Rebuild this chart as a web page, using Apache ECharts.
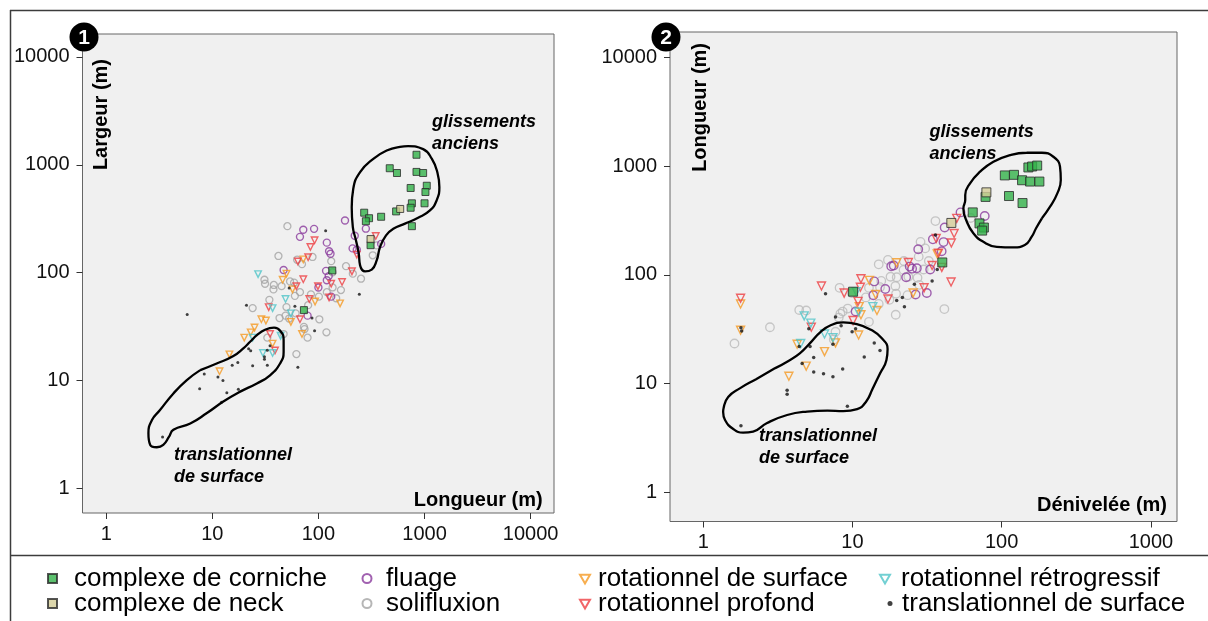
<!DOCTYPE html>
<html><head><meta charset="utf-8">
<script src="https://cdn.jsdelivr.net/npm/echarts@6/dist/echarts.min.js"></script>
<style>html,body{margin:0;padding:0;background:#fff}#c{width:1208px;height:621px}</style>
</head><body><div id="c"></div>
<script>
// ---------- Panel 1 : Largeur (m) vs Longueur (m) ----------
const p1Corniche = [[840,1240],[470,930],[550,840],[840,860],[970,840],[1050,640],[740,610],[1020,560],[760,440],[740,400],[540,370],[1000,440],[390,330],[270,360],[300,320],[280,300],[760,270],[310,180],[135,105],[73,45]];
const p1Neck = [[590,390],[310,205]];
const p1Fluage = [[72,250],[91,255],[67,215],[120,190],[126,158],[130,150],[47,106],[118,104],[125,93],[120,85],[100,73],[132,60],[79,40],[178,305],[220,220],[210,168],[230,163],[280,256],[390,185]];
const p1Solifluxion = [[51,270],[42,143],[63,132],[70,120],[88,140],[132,128],[31,86],[31.4,79],[38,77],[37.7,70],[45,75],[54,83],[59,81],[67,66],[60,61],[85,63],[101,60],[120,66],[163,69],[147,58],[182,115],[211,98],[252,88],[136,101],[136,73],[34.5,56],[24,47],[50,48],[61,42],[43,38],[49,40],[53,37.6],[80,50],[73,31.5],[74,30],[79,25],[102,37],[119,28],[47,27],[33,25],[62,17.6],[325,145],[354,179]];
const p1RotSurface = [[72,133],[50,98],[46,86],[57,70],[93,54],[160,52],[29,37],[32,36],[25,31],[23,28],[20,25],[55,35],[70,27],[37,22],[14.5,17.5],[11.7,12.2]];
const p1RotProfond = [[92,200],[84,173],[64,127],[80,139],[72,87],[62,75],[99,75],[132,79],[167,82],[207,103],[230,147],[347,219],[34,48],[67,37],[82,57],[126,59],[35,27],[39,19]];
const p1RotRetro = [[27,97],[49,57],[37,47],[55,42],[24,25],[30,18],[37,18],[44,26]];
const p1Trans = [[5.8,41],[21,50],[117,245],[53,72],[60,49],[87,38],[92,29],[243,63],[64,13.3],[22,19.7],[23,18.9],[35,21],[33,19.1],[31,16.6],[31,15.8],[17.4,14.7],[15.4,13.9],[24,13.7],[33,13.9],[8.4,11.5],[11.3,10.8],[12.6,10],[7.6,8.4],[17.6,8.3],[13.7,7.7],[12.2,6.3],[3.4,3.0]];
const p1EnvAnciens = [[206,405],[213,600],[247,855],[329,1136],[440,1356],[587,1468],[700,1490],[970,1400],[1170,1140],[1320,855],[1380,620],[1300,468],[1125,378],[870,323],[655,285],[508,256],[434,222],[381,173],[354,130],[318,107],[275,103],[247,117],[240,150],[226,199],[211,265],[206,405]];
const p1EnvTrans = [[7.7,12.5],[11,14.4],[15.8,16.9],[19.6,19.9],[22.7,22.9],[26.3,26.4],[31.4,29.6],[38.2,30.9],[44,28.7],[47,23.7],[47,18.4],[43.5,14.4],[35,11.2],[26.3,9.4],[18.3,7.9],[12.7,6.4],[8.9,5.0],[6.2,4.0],[4.3,3.5],[3.9,3.0],[3.45,2.53],[3.0,2.41],[2.6,2.53],[2.5,3.25],[2.7,4.3],[3.2,5.3],[4.3,7.6],[5.75,10.1],[7.7,12.5]];

// ---------- Panel 2 : Longueur (m) vs Dénivelée (m) ----------
const p2Corniche = [[105,820],[121,830],[137,740],[155,720],[179,720],[151,970],[160,990],[173,1010],[112,530],[138,457],[78,520],[64,375],[71,297],[76,272],[74,255],[40,130],[10.1,70]];
const p2Neck = [[79,573],[46,300]];
const p2Fluage = [[53,375],[77,347],[41.5,272],[34.6,212],[40.8,200],[39.6,165],[27.6,172],[18.2,120],[18.9,122],[24.2,119],[25.1,114],[27,115],[33.2,112],[22.9,95],[14,87],[16.6,74],[13.8,65],[26.5,66],[31.5,68],[10.5,46]];
const p2Solifluxion = [[36,312],[62,333],[28.6,201],[30.7,175],[27.8,147],[32.5,134],[22.1,134],[17.3,137],[15,125],[18,96],[19.8,95],[22,111],[23.7,96],[27.3,94],[28,81],[15.6,88],[12.9,76],[15.3,77],[19.4,79],[19.6,67],[17.7,59],[15,54],[12.3,62],[8.2,76],[9.9,68],[9.3,49],[8.6,46],[8.3,44],[8.1,40.5],[12.9,37],[7.7,30],[4.4,47.5],[4.9,47],[2.8,33],[1.62,23.4],[19.5,43],[23.4,65],[41.3,48.5],[30,112],[7.5,25.5]];
const p2RotSurface = [[19.8,129],[13,89],[14.3,66],[37,156],[25.5,68],[11.1,51],[11.4,43],[14.6,47],[1.78,54],[1.78,31],[4.26,23],[4.9,14.5],[6.5,19.7],[3.75,11.7],[11,28],[7.7,23.7]];
const p2RotProfond = [[50,330],[48,240],[46,196],[36.4,216],[37.7,158],[34.2,122],[39.7,117],[11.4,92],[6.2,79],[8.8,68],[11.3,77],[17.3,60],[30.2,76],[45.8,86],[1.78,61],[5.3,33],[10.9,57],[10.1,38],[23.7,130]];
const p2RotRetro = [[4.75,42],[5.26,36],[6.5,28.6],[7.4,26.5],[4.5,23.4],[13.7,51],[11,45.5],[10.6,70]];
const p2Trans = [[36,232],[37,112],[34.2,88],[26,82],[21.6,62],[19.8,58],[22.3,51],[6.6,67],[1.79,32.6],[1.81,30.4],[5.1,32],[7.7,41],[8.4,34],[9.95,30],[10.5,32],[4.4,22],[5.2,22],[7.4,23],[14,23.6],[15.3,20.2],[5.5,17.4],[4.6,15.3],[12,17.6],[5.5,12.8],[6.4,12.3],[7.4,11.6],[8.6,13.6],[3.65,8.7],[3.65,8.0],[9.25,6.2],[1.79,4.1]];
const p2EnvAnciens = [[186,331],[170,268],[159,224],[143,188],[120,179],[92.7,181],[75.4,201],[64.6,241],[57.8,319],[55.4,408],[57,487],[57,541],[61.4,693],[71.7,887],[88,1096],[114,1262],[147,1325],[186,1325],[222,1217],[246,986],[249,743],[236,561],[211,423],[186,331]];
const p2EnvTrans = [[3.04,13.9],[3.7,16.1],[4.46,19.1],[5.2,23.6],[6.1,29.8],[7.2,34.6],[8.66,36.5],[10.7,35.3],[13.4,31.1],[15.8,26],[17.2,20.8],[16.9,16.5],[15.3,12.4],[13.6,8.9],[12.4,6.9],[10.75,5.84],[8.66,5.6],[6.8,5.66],[4.97,5.54],[3.65,5.15],[2.68,4.35],[2.16,3.63],[1.85,3.55],[1.59,3.83],[1.4,4.63],[1.36,5.48],[1.37,5.97],[1.47,7.53],[1.77,9.1],[2.26,11],[3.04,13.9]];

// axis extents and tick labels
const tickLabels = ['1','10','100','1000','10000'];
const xExtent = [[0.598,16600],[0.599,1496]];
const yExtent = [[0.592,16330],[0.541,17050]];

const FONT = "'Liberation Sans', Arial, Helvetica, sans-serif";
const chart = echarts.init(document.getElementById('c'));

const grids = [
  {left:82.5, top:34, width:471.5, height:479},
  {left:670, top:32, width:507, height:489.5}
];
const sizes = [{sq:7, circ:7, tri:6.5, dot:3}, {sq:9, circ:8.5, tri:8, dot:3.5}];
const panels = [
  {sol:p1Solifluxion, flu:p1Fluage, rs:p1RotSurface, rp:p1RotProfond, rr:p1RotRetro, tr:p1Trans, co:p1Corniche, ne:p1Neck, envA:p1EnvAnciens, envT:p1EnvTrans, gray:'#a4a4a4'},
  {sol:p2Solifluxion, flu:p2Fluage, rs:p2RotSurface, rp:p2RotProfond, rr:p2RotRetro, tr:p2Trans, co:p2Corniche, ne:p2Neck, envA:p2EnvAnciens, envT:p2EnvTrans, gray:'#bababa'}
];
const NONE = 'rgba(0,0,0,0)';
const series = [];
panels.forEach((p, i) => {
  const s = sizes[i];
  const base = {type:'scatter', xAxisIndex:i, yAxisIndex:i, emphasis:{disabled:true}, animation:false};
  series.push(Object.assign({}, base, {name:'solifluxion', data:p.sol, symbol:'circle', symbolSize:s.circ, itemStyle:{color:NONE, borderColor:p.gray, borderWidth:1.3}}));
  series.push(Object.assign({}, base, {name:'fluage', data:p.flu, symbol:'circle', symbolSize:s.circ, itemStyle:{color:NONE, borderColor:'#8a3a9c', borderWidth:1.4}}));
  series.push(Object.assign({}, base, {name:'rotationnel de surface', data:p.rs, symbol:'triangle', symbolRotate:180, symbolSize:s.tri, itemStyle:{color:NONE, borderColor:'#f59a23', borderWidth:1.4}}));
  series.push(Object.assign({}, base, {name:'rotationnel profond', data:p.rp, symbol:'triangle', symbolRotate:180, symbolSize:s.tri, itemStyle:{color:NONE, borderColor:'#ee3e42', borderWidth:1.4}}));
  series.push(Object.assign({}, base, {name:'rotationnel rétrogressif', data:p.rr, symbol:'triangle', symbolRotate:180, symbolSize:s.tri, itemStyle:{color:NONE, borderColor:'#4fc4c8', borderWidth:1.4}}));
  series.push(Object.assign({}, base, {name:'translationnel de surface', data:p.tr, symbol:'circle', symbolSize:s.dot, itemStyle:{color:'#111'}}));
  series.push(Object.assign({}, base, {name:'complexe de corniche', data:p.co, symbol:'rect', symbolSize:s.sq, itemStyle:{color:'#33b24a', borderColor:'#2a2a2a', borderWidth:1}}));
  series.push(Object.assign({}, base, {name:'complexe de neck', data:p.ne, symbol:'rect', symbolSize:s.sq, itemStyle:{color:'#d5cd97', borderColor:'#2a2a2a', borderWidth:1}}));
  [p.envA, p.envT].forEach(env => {
    series.push({type:'line', name:'enveloppe', xAxisIndex:i, yAxisIndex:i, data:env, smooth:0.5, showSymbol:false, silent:true, z:4,
      lineStyle:{color:'#000', width:2.3}, emphasis:{disabled:true}, animation:false});
  });
});

function axis(i, ext, isX){
  return {type:'log', logBase:10, gridIndex:i, min:ext[0], max:ext[1],
    axisLine:{show:false},
    axisTick:{show:true, length:6, lineStyle:{color:'#333', width:1}},
    splitLine:{show:false}, minorTick:{show:false}, minorSplitLine:{show:false},
    axisLabel:{show:true, showMinLabel:false, showMaxLabel:false, fontSize:20, fontFamily:FONT, color:'#111',
      margin: isX ? 11 : 13,
      formatter: v => { const t = String(Math.round(v)); return tickLabels.indexOf(t) >= 0 ? t : ''; }}
  };
}

const DOWN_TRI = 'path://M0,0L10,0L5,8.7Z';
function legendItem(name, left, top, w, pad, icon){
  const item = icon ? {name:name, icon:icon} : name;
  return {data:[item], left:left, top:top, orient:'vertical', padding:0, itemWidth:w, itemHeight: icon ? w*0.87 : w, selectedMode:false,
    textStyle:{fontSize:26, fontFamily:FONT, color:'#000', padding:[0,0,0,pad]}};
}
const r1 = 565.5, r2 = 590.5;
const legends = [
  legendItem('complexe de corniche', 47, r1, 9, 12),
  legendItem('complexe de neck', 47, r2, 9, 12),
  legendItem('fluage', 361.5, r1, 9, 9.5),
  legendItem('solifluxion', 361.5, r2, 9, 9.5),
  legendItem('rotationnel de surface', 579, r1+0.6, 10, 3, DOWN_TRI),
  legendItem('rotationnel profond', 579, r2+0.6, 10, 3, DOWN_TRI),
  legendItem('rotationnel rétrogressif', 879, r1+0.6, 10, 6, DOWN_TRI),
  legendItem('translationnel de surface', 887.5, r2, 5, 4.5)
];

const lineStyle = {stroke:'#3c3c3c', lineWidth:1.5};
function txt(x, y, text, font, align, valign, extra, fill){
  return Object.assign({type:'text', x:x, y:y, z:100, silent:true,
    style:{text:text, font:font, fill:fill || '#000', textAlign:align, align:align, textVerticalAlign:valign, verticalAlign:valign}}, extra||{});
}
const graphic = [
  {type:'line', z:100, silent:true, shape:{x1:10, y1:10.5, x2:1208, y2:10.5}, style:lineStyle},
  {type:'line', z:100, silent:true, shape:{x1:10.5, y1:10, x2:10.5, y2:621}, style:lineStyle},
  {type:'line', z:100, silent:true, shape:{x1:10, y1:555.5, x2:1208, y2:555.5}, style:lineStyle},
  {type:'circle', z:100, silent:true, shape:{cx:84, cy:37, r:14.5}, style:{fill:'#000'}},
  {type:'circle', z:100, silent:true, shape:{cx:666, cy:37, r:14.5}, style:{fill:'#000'}},
  txt(84, 38, '1', 'bold 21px ' + FONT, 'center', 'middle', {z:101}, '#fff'),
  txt(666, 38, '2', 'bold 21px ' + FONT, 'center', 'middle', {z:101}, '#fff'),
  txt(101.5, 59, 'Largeur (m)', 'bold 20px ' + FONT, 'right', 'middle', {rotation:Math.PI/2}),
  txt(700.8, 43, 'Longueur (m)', 'bold 20px ' + FONT, 'right', 'middle', {rotation:Math.PI/2}),
  txt(542.6, 500, 'Longueur (m)', 'bold 20px ' + FONT, 'right', 'middle'),
  txt(1167, 505, 'Dénivelée (m)', 'bold 20px ' + FONT, 'right', 'middle'),
  txt(432, 122, 'glissements', 'italic bold 18px ' + FONT, 'left', 'middle'),
  txt(432, 144.5, 'anciens', 'italic bold 18px ' + FONT, 'left', 'middle'),
  txt(929.6, 132, 'glissements', 'italic bold 18px ' + FONT, 'left', 'middle'),
  txt(929.6, 153.6, 'anciens', 'italic bold 18px ' + FONT, 'left', 'middle'),
  txt(174, 455.3, 'translationnel', 'italic bold 18px ' + FONT, 'left', 'middle'),
  txt(174, 476.6, 'de surface', 'italic bold 18px ' + FONT, 'left', 'middle'),
  txt(759, 435.6, 'translationnel', 'italic bold 18px ' + FONT, 'left', 'middle'),
  txt(759, 457.8, 'de surface', 'italic bold 18px ' + FONT, 'left', 'middle')
];

chart.setOption({
  animation:false,
  backgroundColor:'#fff',
  textStyle:{fontFamily:FONT},
  grid: grids.map(g => Object.assign({show:true, backgroundColor:'#f0f0f0', borderColor:'#666', borderWidth:1, containLabel:false}, g)),
  xAxis: [axis(0, xExtent[0], true), axis(1, xExtent[1], true)],
  yAxis: [axis(0, yExtent[0], false), axis(1, yExtent[1], false)],
  legend: legends,
  series: series,
  graphic: graphic
});
</script>
</body></html>
